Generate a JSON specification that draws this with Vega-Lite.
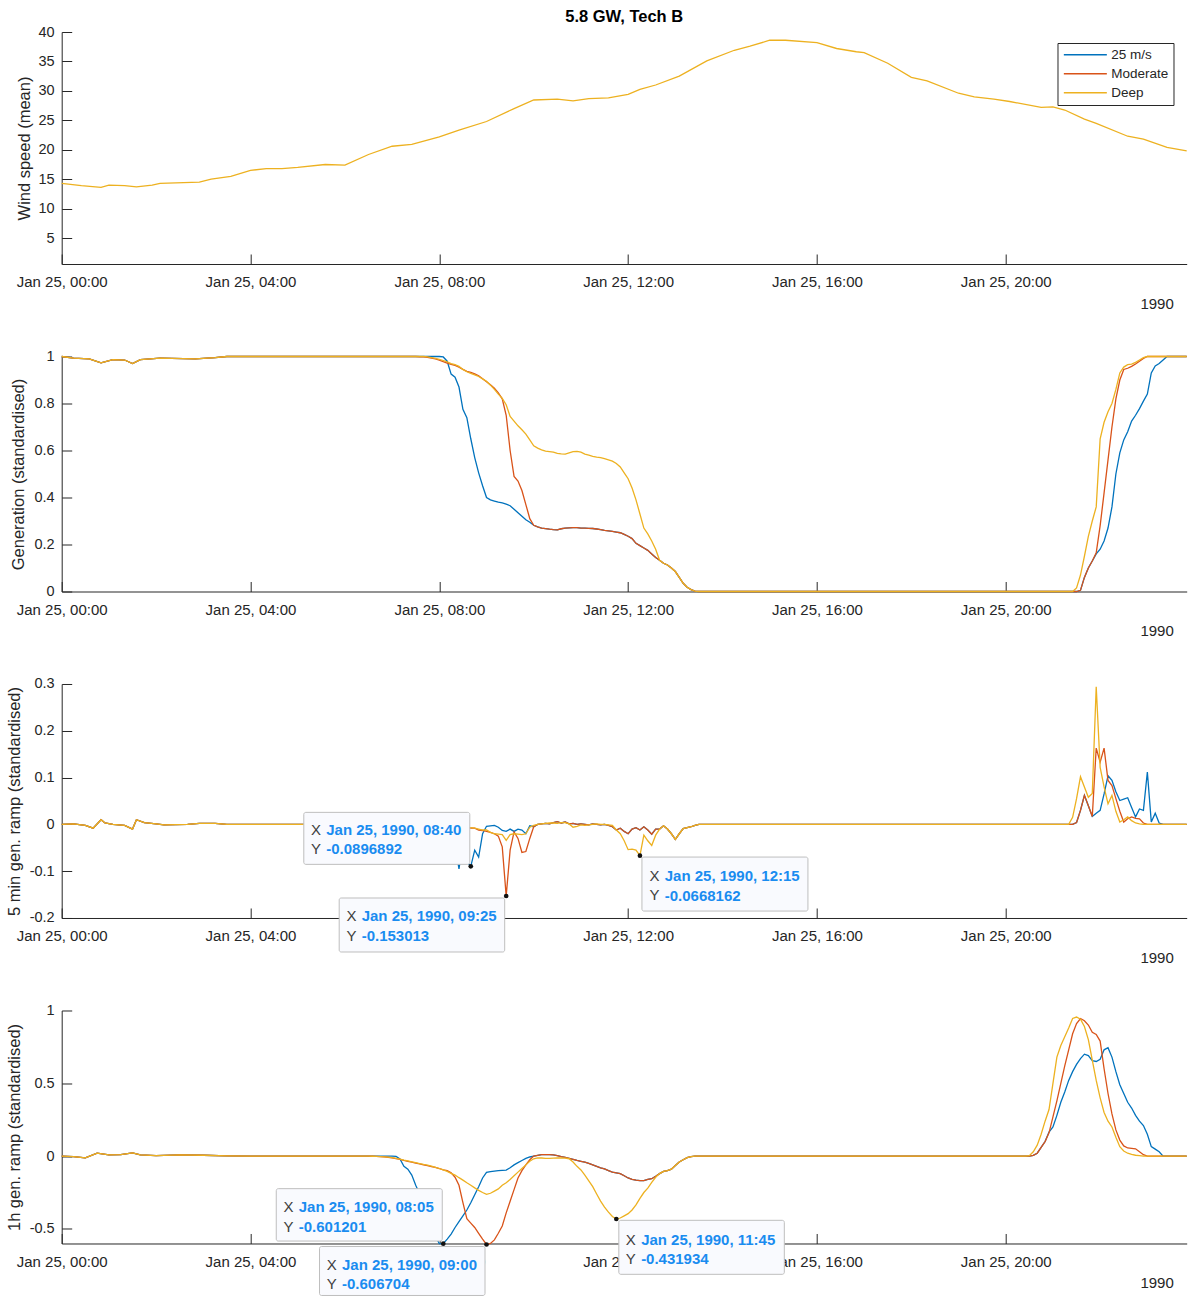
{
  "$schema": "https://vega.github.io/schema/vega-lite/v6.json",
  "padding": {"left": 5.7, "top": 8, "right": 0, "bottom": 0},
  "config": {
    "font": "Liberation Sans",
    "view": {"stroke": null},
    "locale": {"number": {"decimal": ".", "thousands": ",", "grouping": [3], "currency": ["", ""], "minus": "-"}},
    "axis": {"grid": false, "domainColor": "#262626", "tickColor": "#262626", "labelColor": "#262626", "titleColor": "#262626", "tickSize": -10, "domainWidth": 1, "tickWidth": 1, "titleFontWeight": "normal", "labelFont": "Liberation Sans", "titleFont": "Liberation Sans"},
    "axisX": {"labelFontSize": 15, "labelFlush": false, "labelOverlap": false, "labelPadding": 32.7, "labelBaseline": "alphabetic", "titleFontSize": 15, "titleAlign": "right", "titleBaseline": "alphabetic", "titleX": 1111.6, "titleY": 44.3},
    "axisY": {"labelFontSize": 14.5, "labelPadding": 17.6, "titleFontSize": 16.5, "titleAngle": 270, "titleBaseline": "bottom"},
    "line": {"strokeWidth": 1.3, "clip": true}
  },
  "datasets": {
    "wind": [
      {"t":"1990-01-25T00:00","w":14.3},{"t":"1990-01-25T00:25","w":13.9},{"t":"1990-01-25T00:50","w":13.6},{"t":"1990-01-25T01:00","w":14.0},
      {"t":"1990-01-25T01:20","w":13.9},{"t":"1990-01-25T01:35","w":13.7},{"t":"1990-01-25T01:55","w":14.0},{"t":"1990-01-25T02:05","w":14.3},
      {"t":"1990-01-25T02:55","w":14.5},{"t":"1990-01-25T03:10","w":15.0},{"t":"1990-01-25T03:35","w":15.5},{"t":"1990-01-25T04:00","w":16.5},
      {"t":"1990-01-25T04:20","w":16.8},{"t":"1990-01-25T04:40","w":16.8},{"t":"1990-01-25T05:00","w":17.0},{"t":"1990-01-25T05:35","w":17.5},
      {"t":"1990-01-25T06:00","w":17.4},{"t":"1990-01-25T06:30","w":19.2},{"t":"1990-01-25T07:00","w":20.6},{"t":"1990-01-25T07:25","w":20.9},
      {"t":"1990-01-25T08:00","w":22.2},{"t":"1990-01-25T08:25","w":23.35},{"t":"1990-01-25T09:00","w":24.8},{"t":"1990-01-25T09:35","w":27.0},
      {"t":"1990-01-25T10:00","w":28.45},{"t":"1990-01-25T10:30","w":28.6},{"t":"1990-01-25T10:50","w":28.3},{"t":"1990-01-25T11:10","w":28.7},
      {"t":"1990-01-25T11:35","w":28.8},{"t":"1990-01-25T12:00","w":29.4},{"t":"1990-01-25T12:15","w":30.25},{"t":"1990-01-25T12:35","w":31.0},
      {"t":"1990-01-25T13:05","w":32.5},{"t":"1990-01-25T13:40","w":35.1},{"t":"1990-01-25T14:15","w":36.9},{"t":"1990-01-25T14:35","w":37.6},
      {"t":"1990-01-25T15:00","w":38.6},{"t":"1990-01-25T15:20","w":38.6},{"t":"1990-01-25T16:00","w":38.2},{"t":"1990-01-25T16:25","w":37.2},
      {"t":"1990-01-25T16:50","w":36.65},{"t":"1990-01-25T17:00","w":36.5},{"t":"1990-01-25T17:30","w":34.7},{"t":"1990-01-25T18:00","w":32.3},
      {"t":"1990-01-25T18:20","w":31.7},{"t":"1990-01-25T19:00","w":29.6},{"t":"1990-01-25T19:20","w":29.0},{"t":"1990-01-25T19:45","w":28.6},
      {"t":"1990-01-25T20:05","w":28.2},{"t":"1990-01-25T20:45","w":27.2},{"t":"1990-01-25T21:00","w":27.3},{"t":"1990-01-25T21:15","w":26.75},
      {"t":"1990-01-25T21:40","w":25.2},{"t":"1990-01-25T21:55","w":24.5},{"t":"1990-01-25T22:35","w":22.3},{"t":"1990-01-25T22:55","w":21.8},
      {"t":"1990-01-25T23:25","w":20.4},{"t":"1990-01-25T23:50","w":19.8}
    ],
    "gen": [
      {"t":"1990-01-25T00:00","s25":1,"mod":1,"deep":1},
      {"t":"1990-01-25T00:15","s25":0.993,"mod":0.993,"deep":0.993},
      {"t":"1990-01-25T00:35","s25":0.99,"mod":0.99,"deep":0.99},
      {"t":"1990-01-25T00:50","s25":0.973,"mod":0.973,"deep":0.973},
      {"t":"1990-01-25T01:05","s25":0.987,"mod":0.987,"deep":0.987},
      {"t":"1990-01-25T01:20","s25":0.985,"mod":0.985,"deep":0.985},
      {"t":"1990-01-25T01:30","s25":0.97,"mod":0.97,"deep":0.97},
      {"t":"1990-01-25T01:40","s25":0.987,"mod":0.987,"deep":0.987},
      {"t":"1990-01-25T02:05","s25":0.993,"mod":0.993,"deep":0.993},
      {"t":"1990-01-25T02:50","s25":0.99,"mod":0.99,"deep":0.99},
      {"t":"1990-01-25T03:15","s25":0.995,"mod":0.995,"deep":0.995},
      {"t":"1990-01-25T03:30","s25":1,"mod":1,"deep":1},
      {"t":"1990-01-25T07:30","s25":1,"mod":1,"deep":1},
      {"t":"1990-01-25T07:35","s25":1,"mod":0.999,"deep":1},
      {"t":"1990-01-25T07:40","s25":1,"mod":0.998,"deep":1},
      {"t":"1990-01-25T07:45","s25":1,"mod":0.996,"deep":0.998},
      {"t":"1990-01-25T07:50","s25":1,"mod":0.993,"deep":0.995},
      {"t":"1990-01-25T07:55","s25":1,"mod":0.99,"deep":0.992},
      {"t":"1990-01-25T08:00","s25":1,"mod":0.985,"deep":0.988},
      {"t":"1990-01-25T08:05","s25":0.998,"mod":0.978,"deep":0.983},
      {"t":"1990-01-25T08:10","s25":0.98,"mod":0.972,"deep":0.977},
      {"t":"1990-01-25T08:15","s25":0.925,"mod":0.967,"deep":0.97},
      {"t":"1990-01-25T08:20","s25":0.912,"mod":0.962,"deep":0.965},
      {"t":"1990-01-25T08:25","s25":0.87,"mod":0.955,"deep":0.958},
      {"t":"1990-01-25T08:30","s25":0.775,"mod":0.945,"deep":0.945},
      {"t":"1990-01-25T08:35","s25":0.74,"mod":0.937,"deep":0.935},
      {"t":"1990-01-25T08:40","s25":0.65,"mod":0.932,"deep":0.928},
      {"t":"1990-01-25T08:45","s25":0.57,"mod":0.926,"deep":0.922},
      {"t":"1990-01-25T08:50","s25":0.505,"mod":0.918,"deep":0.915},
      {"t":"1990-01-25T08:55","s25":0.45,"mod":0.905,"deep":0.905},
      {"t":"1990-01-25T09:00","s25":0.4,"mod":0.893,"deep":0.895},
      {"t":"1990-01-25T09:05","s25":0.39,"mod":0.88,"deep":0.878},
      {"t":"1990-01-25T09:10","s25":0.385,"mod":0.865,"deep":0.86},
      {"t":"1990-01-25T09:15","s25":0.38,"mod":0.845,"deep":0.84},
      {"t":"1990-01-25T09:20","s25":0.377,"mod":0.82,"deep":0.822},
      {"t":"1990-01-25T09:25","s25":0.372,"mod":0.75,"deep":0.795},
      {"t":"1990-01-25T09:30","s25":0.365,"mod":0.6,"deep":0.745},
      {"t":"1990-01-25T09:35","s25":0.35,"mod":0.49,"deep":0.725},
      {"t":"1990-01-25T09:40","s25":0.335,"mod":0.47,"deep":0.705},
      {"t":"1990-01-25T09:45","s25":0.32,"mod":0.43,"deep":0.688},
      {"t":"1990-01-25T09:50","s25":0.305,"mod":0.37,"deep":0.67},
      {"t":"1990-01-25T09:55","s25":0.295,"mod":0.31,"deep":0.645},
      {"t":"1990-01-25T10:00","s25":0.282,"mod":0.282,"deep":0.62},
      {"t":"1990-01-25T10:05","s25":0.275,"mod":0.275,"deep":0.61},
      {"t":"1990-01-25T10:10","s25":0.27,"mod":0.27,"deep":0.603},
      {"t":"1990-01-25T10:15","s25":0.268,"mod":0.268,"deep":0.597},
      {"t":"1990-01-25T10:20","s25":0.265,"mod":0.265,"deep":0.595},
      {"t":"1990-01-25T10:25","s25":0.263,"mod":0.263,"deep":0.593},
      {"t":"1990-01-25T10:30","s25":0.262,"mod":0.262,"deep":0.588},
      {"t":"1990-01-25T10:35","s25":0.267,"mod":0.267,"deep":0.586},
      {"t":"1990-01-25T10:40","s25":0.27,"mod":0.27,"deep":0.585},
      {"t":"1990-01-25T10:45","s25":0.271,"mod":0.271,"deep":0.59},
      {"t":"1990-01-25T10:50","s25":0.272,"mod":0.272,"deep":0.595},
      {"t":"1990-01-25T10:55","s25":0.272,"mod":0.272,"deep":0.596},
      {"t":"1990-01-25T11:00","s25":0.27,"mod":0.27,"deep":0.593},
      {"t":"1990-01-25T11:05","s25":0.27,"mod":0.27,"deep":0.585},
      {"t":"1990-01-25T11:10","s25":0.269,"mod":0.269,"deep":0.58},
      {"t":"1990-01-25T11:15","s25":0.268,"mod":0.268,"deep":0.575},
      {"t":"1990-01-25T11:20","s25":0.266,"mod":0.266,"deep":0.572},
      {"t":"1990-01-25T11:25","s25":0.263,"mod":0.263,"deep":0.57},
      {"t":"1990-01-25T11:30","s25":0.26,"mod":0.26,"deep":0.565},
      {"t":"1990-01-25T11:35","s25":0.258,"mod":0.258,"deep":0.56},
      {"t":"1990-01-25T11:40","s25":0.256,"mod":0.256,"deep":0.555},
      {"t":"1990-01-25T11:45","s25":0.253,"mod":0.253,"deep":0.545},
      {"t":"1990-01-25T11:50","s25":0.25,"mod":0.25,"deep":0.53},
      {"t":"1990-01-25T11:55","s25":0.243,"mod":0.243,"deep":0.505},
      {"t":"1990-01-25T12:00","s25":0.235,"mod":0.235,"deep":0.48},
      {"t":"1990-01-25T12:05","s25":0.225,"mod":0.225,"deep":0.44},
      {"t":"1990-01-25T12:10","s25":0.205,"mod":0.205,"deep":0.39},
      {"t":"1990-01-25T12:15","s25":0.195,"mod":0.195,"deep":0.33},
      {"t":"1990-01-25T12:20","s25":0.185,"mod":0.185,"deep":0.27},
      {"t":"1990-01-25T12:25","s25":0.175,"mod":0.175,"deep":0.245},
      {"t":"1990-01-25T12:30","s25":0.16,"mod":0.16,"deep":0.215},
      {"t":"1990-01-25T12:35","s25":0.145,"mod":0.145,"deep":0.18},
      {"t":"1990-01-25T12:40","s25":0.133,"mod":0.133,"deep":0.133},
      {"t":"1990-01-25T12:45","s25":0.12,"mod":0.12,"deep":0.12},
      {"t":"1990-01-25T12:50","s25":0.113,"mod":0.113,"deep":0.113},
      {"t":"1990-01-25T12:55","s25":0.1,"mod":0.1,"deep":0.1},
      {"t":"1990-01-25T13:00","s25":0.085,"mod":0.085,"deep":0.085},
      {"t":"1990-01-25T13:05","s25":0.06,"mod":0.06,"deep":0.06},
      {"t":"1990-01-25T13:10","s25":0.035,"mod":0.035,"deep":0.035},
      {"t":"1990-01-25T13:15","s25":0.018,"mod":0.018,"deep":0.018},
      {"t":"1990-01-25T13:20","s25":0.008,"mod":0.008,"deep":0.008},
      {"t":"1990-01-25T13:25","s25":0.002,"mod":0.002,"deep":0.002},
      {"t":"1990-01-25T13:30","s25":0,"mod":0,"deep":0},
      {"t":"1990-01-25T21:25","s25":0,"mod":0,"deep":0},
      {"t":"1990-01-25T21:30","s25":0,"mod":0,"deep":0.015},
      {"t":"1990-01-25T21:35","s25":0.005,"mod":0.005,"deep":0.07},
      {"t":"1990-01-25T21:40","s25":0.06,"mod":0.06,"deep":0.15},
      {"t":"1990-01-25T21:45","s25":0.1,"mod":0.1,"deep":0.235},
      {"t":"1990-01-25T21:50","s25":0.13,"mod":0.13,"deep":0.3},
      {"t":"1990-01-25T21:55","s25":0.16,"mod":0.165,"deep":0.36},
      {"t":"1990-01-25T22:00","s25":0.18,"mod":0.28,"deep":0.65},
      {"t":"1990-01-25T22:05","s25":0.215,"mod":0.42,"deep":0.72},
      {"t":"1990-01-25T22:10","s25":0.27,"mod":0.56,"deep":0.765},
      {"t":"1990-01-25T22:15","s25":0.36,"mod":0.7,"deep":0.8},
      {"t":"1990-01-25T22:20","s25":0.5,"mod":0.82,"deep":0.86},
      {"t":"1990-01-25T22:25","s25":0.59,"mod":0.9,"deep":0.93},
      {"t":"1990-01-25T22:30","s25":0.645,"mod":0.945,"deep":0.955},
      {"t":"1990-01-25T22:35","s25":0.68,"mod":0.95,"deep":0.965},
      {"t":"1990-01-25T22:40","s25":0.725,"mod":0.958,"deep":0.968},
      {"t":"1990-01-25T22:45","s25":0.75,"mod":0.968,"deep":0.975},
      {"t":"1990-01-25T22:50","s25":0.778,"mod":0.98,"deep":0.985},
      {"t":"1990-01-25T22:55","s25":0.81,"mod":0.992,"deep":0.995},
      {"t":"1990-01-25T23:00","s25":0.84,"mod":1,"deep":1},
      {"t":"1990-01-25T23:05","s25":0.93,"mod":1,"deep":1},
      {"t":"1990-01-25T23:10","s25":0.96,"mod":1,"deep":1},
      {"t":"1990-01-25T23:15","s25":0.97,"mod":1,"deep":1},
      {"t":"1990-01-25T23:20","s25":0.985,"mod":1,"deep":1},
      {"t":"1990-01-25T23:25","s25":1,"mod":1,"deep":1},
      {"t":"1990-01-25T23:50","s25":1,"mod":1,"deep":1}
    ],
    "ramp5": [
      {"t":"1990-01-25T00:00","s25":0,"mod":0,"deep":0},
      {"t":"1990-01-25T00:15","s25":0.001,"mod":0.001,"deep":0.001},
      {"t":"1990-01-25T00:30","s25":-0.002,"mod":-0.002,"deep":-0.002},
      {"t":"1990-01-25T00:40","s25":-0.008,"mod":-0.008,"deep":-0.008},
      {"t":"1990-01-25T00:50","s25":0.01,"mod":0.01,"deep":0.01},
      {"t":"1990-01-25T00:55","s25":0.003,"mod":0.003,"deep":0.003},
      {"t":"1990-01-25T01:05","s25":0,"mod":0,"deep":0},
      {"t":"1990-01-25T01:20","s25":-0.002,"mod":-0.002,"deep":-0.002},
      {"t":"1990-01-25T01:30","s25":-0.01,"mod":-0.01,"deep":-0.01},
      {"t":"1990-01-25T01:35","s25":0.01,"mod":0.01,"deep":0.01},
      {"t":"1990-01-25T01:45","s25":0.004,"mod":0.004,"deep":0.004},
      {"t":"1990-01-25T02:00","s25":0.001,"mod":0.001,"deep":0.001},
      {"t":"1990-01-25T02:10","s25":-0.001,"mod":-0.001,"deep":-0.001},
      {"t":"1990-01-25T02:40","s25":0,"mod":0,"deep":0},
      {"t":"1990-01-25T02:55","s25":0.002,"mod":0.002,"deep":0.002},
      {"t":"1990-01-25T03:15","s25":0.002,"mod":0.002,"deep":0.002},
      {"t":"1990-01-25T03:30","s25":0,"mod":0,"deep":0},
      {"t":"1990-01-25T07:30","s25":0,"mod":0,"deep":0},
      {"t":"1990-01-25T07:35","s25":0,"mod":-0.001,"deep":0},
      {"t":"1990-01-25T07:40","s25":0,"mod":-0.002,"deep":-0.001},
      {"t":"1990-01-25T07:45","s25":0,"mod":-0.003,"deep":-0.002},
      {"t":"1990-01-25T07:50","s25":0,"mod":-0.003,"deep":-0.003},
      {"t":"1990-01-25T07:55","s25":0,"mod":-0.005,"deep":-0.004},
      {"t":"1990-01-25T08:00","s25":-0.002,"mod":-0.006,"deep":-0.005},
      {"t":"1990-01-25T08:05","s25":-0.018,"mod":-0.006,"deep":-0.006},
      {"t":"1990-01-25T08:10","s25":-0.055,"mod":-0.005,"deep":-0.007},
      {"t":"1990-01-25T08:15","s25":-0.013,"mod":-0.005,"deep":-0.005},
      {"t":"1990-01-25T08:20","s25":-0.042,"mod":-0.007,"deep":-0.007},
      {"t":"1990-01-25T08:25","s25":-0.095,"mod":-0.01,"deep":-0.013},
      {"t":"1990-01-25T08:30","s25":-0.035,"mod":-0.008,"deep":-0.01},
      {"t":"1990-01-25T08:35","s25":-0.08,"mod":-0.006,"deep":-0.007},
      {"t":"1990-01-25T08:40","s25":-0.0896892,"mod":-0.008,"deep":-0.007},
      {"t":"1990-01-25T08:45","s25":-0.055,"mod":-0.008,"deep":-0.008},
      {"t":"1990-01-25T08:50","s25":-0.07,"mod":-0.012,"deep":-0.01},
      {"t":"1990-01-25T08:55","s25":-0.02,"mod":-0.013,"deep":-0.012},
      {"t":"1990-01-25T09:00","s25":-0.004,"mod":-0.015,"deep":-0.012},
      {"t":"1990-01-25T09:05","s25":-0.003,"mod":-0.017,"deep":-0.017},
      {"t":"1990-01-25T09:10","s25":-0.002,"mod":-0.02,"deep":-0.02},
      {"t":"1990-01-25T09:15","s25":-0.006,"mod":-0.025,"deep":-0.021},
      {"t":"1990-01-25T09:20","s25":-0.013,"mod":-0.048,"deep":-0.022},
      {"t":"1990-01-25T09:25","s25":-0.015,"mod":-0.153013,"deep":-0.034},
      {"t":"1990-01-25T09:30","s25":-0.01,"mod":-0.055,"deep":-0.022},
      {"t":"1990-01-25T09:35","s25":-0.015,"mod":-0.016,"deep":-0.02},
      {"t":"1990-01-25T09:40","s25":-0.01,"mod":-0.03,"deep":-0.021},
      {"t":"1990-01-25T09:45","s25":-0.012,"mod":-0.06,"deep":-0.022},
      {"t":"1990-01-25T09:50","s25":-0.02,"mod":-0.058,"deep":-0.02},
      {"t":"1990-01-25T09:55","s25":-0.003,"mod":-0.03,"deep":-0.006},
      {"t":"1990-01-25T10:00","s25":-0.005,"mod":-0.005,"deep":-0.002},
      {"t":"1990-01-25T10:05","s25":0,"mod":0,"deep":0},
      {"t":"1990-01-25T10:10","s25":0.001,"mod":0.001,"deep":0.001},
      {"t":"1990-01-25T10:15","s25":0.002,"mod":0.002,"deep":0.002},
      {"t":"1990-01-25T10:20","s25":0.001,"mod":0.001,"deep":0.003},
      {"t":"1990-01-25T10:25","s25":0.004,"mod":0.004,"deep":0.003},
      {"t":"1990-01-25T10:30","s25":0.006,"mod":0.006,"deep":0.002},
      {"t":"1990-01-25T10:35","s25":0.003,"mod":0.003,"deep":0.004},
      {"t":"1990-01-25T10:40","s25":0.005,"mod":0.005,"deep":0.004},
      {"t":"1990-01-25T10:45","s25":0.001,"mod":0.001,"deep":0.001},
      {"t":"1990-01-25T10:50","s25":0.002,"mod":0.002,"deep":-0.006},
      {"t":"1990-01-25T10:55","s25":0,"mod":0,"deep":-0.004},
      {"t":"1990-01-25T11:00","s25":0.001,"mod":0.001,"deep":-0.001},
      {"t":"1990-01-25T11:05","s25":0,"mod":0,"deep":-0.002},
      {"t":"1990-01-25T11:10","s25":-0.001,"mod":-0.001,"deep":-0.001},
      {"t":"1990-01-25T11:15","s25":0.001,"mod":0.001,"deep":0},
      {"t":"1990-01-25T11:20","s25":0,"mod":0,"deep":0.001},
      {"t":"1990-01-25T11:25","s25":-0.001,"mod":-0.001,"deep":0},
      {"t":"1990-01-25T11:30","s25":0,"mod":0,"deep":0},
      {"t":"1990-01-25T11:35","s25":-0.002,"mod":-0.002,"deep":-0.001},
      {"t":"1990-01-25T11:40","s25":-0.005,"mod":-0.005,"deep":-0.002},
      {"t":"1990-01-25T11:45","s25":-0.012,"mod":-0.012,"deep":-0.012},
      {"t":"1990-01-25T11:50","s25":-0.008,"mod":-0.008,"deep":-0.02},
      {"t":"1990-01-25T11:55","s25":-0.015,"mod":-0.015,"deep":-0.035},
      {"t":"1990-01-25T12:00","s25":-0.02,"mod":-0.02,"deep":-0.054},
      {"t":"1990-01-25T12:05","s25":-0.01,"mod":-0.01,"deep":-0.053},
      {"t":"1990-01-25T12:10","s25":-0.007,"mod":-0.007,"deep":-0.055},
      {"t":"1990-01-25T12:15","s25":-0.012,"mod":-0.012,"deep":-0.0668162},
      {"t":"1990-01-25T12:20","s25":-0.005,"mod":-0.005,"deep":-0.023},
      {"t":"1990-01-25T12:25","s25":-0.012,"mod":-0.012,"deep":-0.035},
      {"t":"1990-01-25T12:30","s25":-0.021,"mod":-0.021,"deep":-0.045},
      {"t":"1990-01-25T12:35","s25":-0.01,"mod":-0.01,"deep":-0.023},
      {"t":"1990-01-25T12:40","s25":-0.01,"mod":-0.01,"deep":-0.01},
      {"t":"1990-01-25T12:45","s25":-0.003,"mod":-0.003,"deep":-0.003},
      {"t":"1990-01-25T12:50","s25":-0.01,"mod":-0.01,"deep":-0.01},
      {"t":"1990-01-25T12:55","s25":-0.02,"mod":-0.02,"deep":-0.02},
      {"t":"1990-01-25T13:00","s25":-0.032,"mod":-0.032,"deep":-0.032},
      {"t":"1990-01-25T13:05","s25":-0.02,"mod":-0.02,"deep":-0.02},
      {"t":"1990-01-25T13:10","s25":-0.009,"mod":-0.009,"deep":-0.009},
      {"t":"1990-01-25T13:15","s25":-0.007,"mod":-0.007,"deep":-0.007},
      {"t":"1990-01-25T13:20","s25":-0.005,"mod":-0.005,"deep":-0.005},
      {"t":"1990-01-25T13:25","s25":-0.002,"mod":-0.002,"deep":-0.002},
      {"t":"1990-01-25T13:30","s25":0,"mod":0,"deep":0},
      {"t":"1990-01-25T21:20","s25":0,"mod":0,"deep":0},
      {"t":"1990-01-25T21:25","s25":0,"mod":0,"deep":0.015},
      {"t":"1990-01-25T21:30","s25":0.004,"mod":0.004,"deep":0.055},
      {"t":"1990-01-25T21:35","s25":0.03,"mod":0.03,"deep":0.102},
      {"t":"1990-01-25T21:40","s25":0.062,"mod":0.062,"deep":0.08},
      {"t":"1990-01-25T21:45","s25":0.04,"mod":0.04,"deep":0.058},
      {"t":"1990-01-25T21:50","s25":0.017,"mod":0.017,"deep":0.066},
      {"t":"1990-01-25T21:55","s25":0.024,"mod":0.163,"deep":0.294},
      {"t":"1990-01-25T22:00","s25":0.03,"mod":0.133,"deep":0.122},
      {"t":"1990-01-25T22:05","s25":0.065,"mod":0.163,"deep":0.08},
      {"t":"1990-01-25T22:10","s25":0.104,"mod":0.094,"deep":0.044},
      {"t":"1990-01-25T22:15","s25":0.094,"mod":0.083,"deep":0.062},
      {"t":"1990-01-25T22:20","s25":0.07,"mod":0.055,"deep":0.028},
      {"t":"1990-01-25T22:25","s25":0.051,"mod":0.028,"deep":0.005},
      {"t":"1990-01-25T22:30","s25":0.054,"mod":0.005,"deep":0.01},
      {"t":"1990-01-25T22:35","s25":0.057,"mod":0.012,"deep":0.016},
      {"t":"1990-01-25T22:40","s25":0.036,"mod":0.016,"deep":0.008},
      {"t":"1990-01-25T22:45","s25":0.016,"mod":0.013,"deep":0.003},
      {"t":"1990-01-25T22:50","s25":0.033,"mod":0.012,"deep":0.001},
      {"t":"1990-01-25T22:55","s25":0.03,"mod":0.003,"deep":0},
      {"t":"1990-01-25T23:00","s25":0.112,"mod":0,"deep":0},
      {"t":"1990-01-25T23:05","s25":0.005,"mod":0,"deep":0},
      {"t":"1990-01-25T23:10","s25":0.024,"mod":0,"deep":0},
      {"t":"1990-01-25T23:15","s25":0.003,"mod":0,"deep":0},
      {"t":"1990-01-25T23:20","s25":0,"mod":0,"deep":0},
      {"t":"1990-01-25T23:50","s25":0,"mod":0,"deep":0}
    ],
    "ramp60": [
      {"t":"1990-01-25T00:00","s25":0,"mod":0,"deep":0},
      {"t":"1990-01-25T00:15","s25":-0.003,"mod":-0.003,"deep":-0.003},
      {"t":"1990-01-25T00:30","s25":-0.012,"mod":-0.012,"deep":-0.012},
      {"t":"1990-01-25T00:45","s25":0.02,"mod":0.02,"deep":0.02},
      {"t":"1990-01-25T01:00","s25":0.008,"mod":0.008,"deep":0.008},
      {"t":"1990-01-25T01:15","s25":0.01,"mod":0.01,"deep":0.01},
      {"t":"1990-01-25T01:30","s25":0.022,"mod":0.022,"deep":0.022},
      {"t":"1990-01-25T01:40","s25":0.008,"mod":0.008,"deep":0.008},
      {"t":"1990-01-25T02:00","s25":0.004,"mod":0.004,"deep":0.004},
      {"t":"1990-01-25T02:30","s25":0.008,"mod":0.008,"deep":0.008},
      {"t":"1990-01-25T03:00","s25":0.006,"mod":0.006,"deep":0.006},
      {"t":"1990-01-25T03:30","s25":0.002,"mod":0.002,"deep":0.002},
      {"t":"1990-01-25T04:00","s25":0,"mod":0,"deep":0},
      {"t":"1990-01-25T06:30","s25":0,"mod":0,"deep":0},
      {"t":"1990-01-25T06:35","s25":0,"mod":-0.001,"deep":-0.001},
      {"t":"1990-01-25T06:40","s25":0,"mod":-0.002,"deep":-0.002},
      {"t":"1990-01-25T06:45","s25":0,"mod":-0.003,"deep":-0.003},
      {"t":"1990-01-25T06:50","s25":0,"mod":-0.005,"deep":-0.005},
      {"t":"1990-01-25T06:55","s25":0,"mod":-0.008,"deep":-0.007},
      {"t":"1990-01-25T07:00","s25":0,"mod":-0.012,"deep":-0.01},
      {"t":"1990-01-25T07:05","s25":-0.002,"mod":-0.017,"deep":-0.015},
      {"t":"1990-01-25T07:10","s25":-0.02,"mod":-0.023,"deep":-0.02},
      {"t":"1990-01-25T07:15","s25":-0.07,"mod":-0.03,"deep":-0.027},
      {"t":"1990-01-25T07:20","s25":-0.09,"mod":-0.036,"deep":-0.033},
      {"t":"1990-01-25T07:25","s25":-0.13,"mod":-0.042,"deep":-0.039},
      {"t":"1990-01-25T07:30","s25":-0.2,"mod":-0.048,"deep":-0.045},
      {"t":"1990-01-25T07:35","s25":-0.26,"mod":-0.054,"deep":-0.051},
      {"t":"1990-01-25T07:40","s25":-0.35,"mod":-0.06,"deep":-0.057},
      {"t":"1990-01-25T07:45","s25":-0.43,"mod":-0.066,"deep":-0.062},
      {"t":"1990-01-25T07:50","s25":-0.5,"mod":-0.072,"deep":-0.069},
      {"t":"1990-01-25T07:55","s25":-0.55,"mod":-0.078,"deep":-0.077},
      {"t":"1990-01-25T08:00","s25":-0.6,"mod":-0.085,"deep":-0.085},
      {"t":"1990-01-25T08:05","s25":-0.601201,"mod":-0.095,"deep":-0.095},
      {"t":"1990-01-25T08:10","s25":-0.57,"mod":-0.1,"deep":-0.105},
      {"t":"1990-01-25T08:15","s25":-0.535,"mod":-0.115,"deep":-0.118},
      {"t":"1990-01-25T08:20","s25":-0.49,"mod":-0.145,"deep":-0.13},
      {"t":"1990-01-25T08:25","s25":-0.45,"mod":-0.2,"deep":-0.148},
      {"t":"1990-01-25T08:30","s25":-0.41,"mod":-0.32,"deep":-0.165},
      {"t":"1990-01-25T08:35","s25":-0.37,"mod":-0.43,"deep":-0.183},
      {"t":"1990-01-25T08:40","s25":-0.32,"mod":-0.46,"deep":-0.2},
      {"t":"1990-01-25T08:45","s25":-0.265,"mod":-0.49,"deep":-0.218},
      {"t":"1990-01-25T08:50","s25":-0.21,"mod":-0.53,"deep":-0.235},
      {"t":"1990-01-25T08:55","s25":-0.15,"mod":-0.57,"deep":-0.25},
      {"t":"1990-01-25T09:00","s25":-0.112,"mod":-0.606704,"deep":-0.263},
      {"t":"1990-01-25T09:05","s25":-0.106,"mod":-0.6,"deep":-0.255},
      {"t":"1990-01-25T09:10","s25":-0.103,"mod":-0.575,"deep":-0.24},
      {"t":"1990-01-25T09:15","s25":-0.1,"mod":-0.53,"deep":-0.225},
      {"t":"1990-01-25T09:20","s25":-0.098,"mod":-0.48,"deep":-0.2},
      {"t":"1990-01-25T09:25","s25":-0.096,"mod":-0.39,"deep":-0.183},
      {"t":"1990-01-25T09:30","s25":-0.08,"mod":-0.31,"deep":-0.16},
      {"t":"1990-01-25T09:35","s25":-0.06,"mod":-0.23,"deep":-0.135},
      {"t":"1990-01-25T09:40","s25":-0.045,"mod":-0.15,"deep":-0.11},
      {"t":"1990-01-25T09:45","s25":-0.03,"mod":-0.1,"deep":-0.085},
      {"t":"1990-01-25T09:50","s25":-0.016,"mod":-0.06,"deep":-0.06},
      {"t":"1990-01-25T09:55","s25":-0.006,"mod":-0.025,"deep":-0.035},
      {"t":"1990-01-25T10:00","s25":0,"mod":0,"deep":-0.018},
      {"t":"1990-01-25T10:05","s25":0.005,"mod":0.005,"deep":-0.012},
      {"t":"1990-01-25T10:10","s25":0.01,"mod":0.01,"deep":-0.013},
      {"t":"1990-01-25T10:15","s25":0.01,"mod":0.01,"deep":-0.015},
      {"t":"1990-01-25T10:20","s25":0.01,"mod":0.01,"deep":-0.015},
      {"t":"1990-01-25T10:25","s25":0.008,"mod":0.008,"deep":-0.014},
      {"t":"1990-01-25T10:30","s25":0.003,"mod":0.003,"deep":-0.013},
      {"t":"1990-01-25T10:35","s25":-0.003,"mod":-0.003,"deep":-0.012},
      {"t":"1990-01-25T10:40","s25":-0.008,"mod":-0.008,"deep":-0.014},
      {"t":"1990-01-25T10:45","s25":-0.015,"mod":-0.015,"deep":-0.018},
      {"t":"1990-01-25T10:50","s25":-0.022,"mod":-0.022,"deep":-0.04},
      {"t":"1990-01-25T10:55","s25":-0.03,"mod":-0.03,"deep":-0.07},
      {"t":"1990-01-25T11:00","s25":-0.036,"mod":-0.036,"deep":-0.095},
      {"t":"1990-01-25T11:05","s25":-0.042,"mod":-0.042,"deep":-0.13},
      {"t":"1990-01-25T11:10","s25":-0.05,"mod":-0.05,"deep":-0.17},
      {"t":"1990-01-25T11:15","s25":-0.06,"mod":-0.06,"deep":-0.21},
      {"t":"1990-01-25T11:20","s25":-0.07,"mod":-0.07,"deep":-0.26},
      {"t":"1990-01-25T11:25","s25":-0.08,"mod":-0.08,"deep":-0.309},
      {"t":"1990-01-25T11:30","s25":-0.088,"mod":-0.088,"deep":-0.35},
      {"t":"1990-01-25T11:35","s25":-0.1,"mod":-0.1,"deep":-0.385},
      {"t":"1990-01-25T11:40","s25":-0.11,"mod":-0.11,"deep":-0.415},
      {"t":"1990-01-25T11:45","s25":-0.115,"mod":-0.115,"deep":-0.431934},
      {"t":"1990-01-25T11:50","s25":-0.12,"mod":-0.12,"deep":-0.425},
      {"t":"1990-01-25T11:55","s25":-0.135,"mod":-0.135,"deep":-0.41},
      {"t":"1990-01-25T12:00","s25":-0.15,"mod":-0.15,"deep":-0.395},
      {"t":"1990-01-25T12:05","s25":-0.16,"mod":-0.16,"deep":-0.37},
      {"t":"1990-01-25T12:10","s25":-0.165,"mod":-0.165,"deep":-0.335},
      {"t":"1990-01-25T12:15","s25":-0.168,"mod":-0.168,"deep":-0.29},
      {"t":"1990-01-25T12:20","s25":-0.168,"mod":-0.168,"deep":-0.25},
      {"t":"1990-01-25T12:25","s25":-0.16,"mod":-0.16,"deep":-0.22},
      {"t":"1990-01-25T12:30","s25":-0.155,"mod":-0.155,"deep":-0.18},
      {"t":"1990-01-25T12:35","s25":-0.138,"mod":-0.138,"deep":-0.145},
      {"t":"1990-01-25T12:40","s25":-0.12,"mod":-0.12,"deep":-0.12},
      {"t":"1990-01-25T12:45","s25":-0.105,"mod":-0.105,"deep":-0.105},
      {"t":"1990-01-25T12:50","s25":-0.1,"mod":-0.1,"deep":-0.1},
      {"t":"1990-01-25T12:55","s25":-0.09,"mod":-0.09,"deep":-0.09},
      {"t":"1990-01-25T13:00","s25":-0.065,"mod":-0.065,"deep":-0.065},
      {"t":"1990-01-25T13:05","s25":-0.04,"mod":-0.04,"deep":-0.04},
      {"t":"1990-01-25T13:10","s25":-0.025,"mod":-0.025,"deep":-0.025},
      {"t":"1990-01-25T13:15","s25":-0.01,"mod":-0.01,"deep":-0.01},
      {"t":"1990-01-25T13:20","s25":-0.003,"mod":-0.003,"deep":-0.003},
      {"t":"1990-01-25T13:25","s25":0,"mod":0,"deep":0},
      {"t":"1990-01-25T20:25","s25":0,"mod":0,"deep":0},
      {"t":"1990-01-25T20:30","s25":0,"mod":0,"deep":0.003},
      {"t":"1990-01-25T20:35","s25":0.005,"mod":0.005,"deep":0.03},
      {"t":"1990-01-25T20:40","s25":0.02,"mod":0.02,"deep":0.075},
      {"t":"1990-01-25T20:45","s25":0.06,"mod":0.06,"deep":0.15},
      {"t":"1990-01-25T20:50","s25":0.1,"mod":0.1,"deep":0.24},
      {"t":"1990-01-25T20:55","s25":0.165,"mod":0.16,"deep":0.32},
      {"t":"1990-01-25T21:00","s25":0.2,"mod":0.27,"deep":0.5},
      {"t":"1990-01-25T21:05","s25":0.28,"mod":0.38,"deep":0.68},
      {"t":"1990-01-25T21:10","s25":0.37,"mod":0.5,"deep":0.76},
      {"t":"1990-01-25T21:15","s25":0.44,"mod":0.62,"deep":0.82},
      {"t":"1990-01-25T21:20","s25":0.52,"mod":0.73,"deep":0.88},
      {"t":"1990-01-25T21:25","s25":0.58,"mod":0.84,"deep":0.945},
      {"t":"1990-01-25T21:30","s25":0.63,"mod":0.91,"deep":0.955},
      {"t":"1990-01-25T21:35","s25":0.67,"mod":0.945,"deep":0.94},
      {"t":"1990-01-25T21:40","s25":0.7,"mod":0.93,"deep":0.89},
      {"t":"1990-01-25T21:45","s25":0.69,"mod":0.9,"deep":0.8},
      {"t":"1990-01-25T21:50","s25":0.655,"mod":0.85,"deep":0.66},
      {"t":"1990-01-25T21:55","s25":0.65,"mod":0.835,"deep":0.52},
      {"t":"1990-01-25T22:00","s25":0.665,"mod":0.79,"deep":0.4},
      {"t":"1990-01-25T22:05","s25":0.73,"mod":0.6,"deep":0.3},
      {"t":"1990-01-25T22:10","s25":0.745,"mod":0.43,"deep":0.24},
      {"t":"1990-01-25T22:15","s25":0.68,"mod":0.29,"deep":0.2},
      {"t":"1990-01-25T22:20","s25":0.58,"mod":0.18,"deep":0.13},
      {"t":"1990-01-25T22:25","s25":0.49,"mod":0.11,"deep":0.065},
      {"t":"1990-01-25T22:30","s25":0.43,"mod":0.07,"deep":0.035},
      {"t":"1990-01-25T22:35","s25":0.37,"mod":0.056,"deep":0.02},
      {"t":"1990-01-25T22:40","s25":0.33,"mod":0.053,"deep":0.012},
      {"t":"1990-01-25T22:45","s25":0.28,"mod":0.05,"deep":0.006},
      {"t":"1990-01-25T22:50","s25":0.24,"mod":0.03,"deep":0.003},
      {"t":"1990-01-25T22:55","s25":0.21,"mod":0.01,"deep":0},
      {"t":"1990-01-25T23:00","s25":0.15,"mod":0,"deep":0},
      {"t":"1990-01-25T23:05","s25":0.065,"mod":0,"deep":0},
      {"t":"1990-01-25T23:10","s25":0.048,"mod":0,"deep":0},
      {"t":"1990-01-25T23:15","s25":0.03,"mod":0,"deep":0},
      {"t":"1990-01-25T23:20","s25":0,"mod":0,"deep":0},
      {"t":"1990-01-25T23:50","s25":0,"mod":0,"deep":0}
    ],
    "tips5": [
      {"t":"1990-01-25T08:40","v":-0.0896892,"tech":"s25"},
      {"t":"1990-01-25T09:25","v":-0.153013,"tech":"mod"},
      {"t":"1990-01-25T12:15","v":-0.0668162,"tech":"deep"}
    ],
    "tips60": [
      {"t":"1990-01-25T08:05","v":-0.601201,"tech":"s25"},
      {"t":"1990-01-25T09:00","v":-0.606704,"tech":"mod"},
      {"t":"1990-01-25T11:45","v":-0.431934,"tech":"deep"}
    ]
  },
  "spacing": 92.5,
  "bounds": "flush",
  "resolve": {"scale": {"x": "independent", "y": "independent", "color": "independent"}},
  "vconcat": [
    {
      "width": 1125,
      "height": 232,
      "title": {"text": "5.8 GW, Tech B", "frame": "group", "anchor": "middle", "fontSize": 16.5, "fontWeight": "bold", "color": "#000000", "baseline": "alphabetic", "offset": -14},
      "data": {"name": "wind"},
      "mark": {"type": "line"},
      "encoding": {
        "x": {"field": "t", "type": "temporal", "scale": {"domain": [{"year": 1990, "month": 1, "date": 25, "hours": 0}, {"year": 1990, "month": 1, "date": 25, "hours": 23, "minutes": 50}]}, "axis": {"title": "1990", "format": "%b %d, %H:%M", "values": [{"year": 1990, "month": 1, "date": 25, "hours": 0}, {"year": 1990, "month": 1, "date": 25, "hours": 4}, {"year": 1990, "month": 1, "date": 25, "hours": 8}, {"year": 1990, "month": 1, "date": 25, "hours": 12}, {"year": 1990, "month": 1, "date": 25, "hours": 16}, {"year": 1990, "month": 1, "date": 25, "hours": 20}]}},
        "y": {"field": "w", "type": "quantitative", "scale": {"domain": [0.6, 40], "nice": false}, "axis": {"title": "Wind speed (mean)", "values": [5, 10, 15, 20, 25, 30, 35, 40], "format": "d", "titleX": -28.7}},
        "color": {"datum": "Deep", "type": "nominal", "scale": {"domain": ["25 m/s", "Moderate", "Deep"], "range": ["#0072BD", "#D95319", "#EDB120"]}, "legend": {"orient": "none", "legendX": 995.8, "legendY": 11, "title": null, "strokeColor": "#262626", "fillColor": "#ffffff", "padding": 5, "rowPadding": 4, "symbolType": "M-4,0H4", "symbolSize": 115.6, "symbolOffset": 16.1, "symbolStrokeWidth": 1.3, "labelOffset": 19.2, "labelFontSize": 13.5, "labelColor": "#262626", "labelFont": "Liberation Sans"}}
      }
    },
    {
      "width": 1125,
      "height": 235,
      "data": {"name": "gen"},
      "transform": [{"fold": ["s25", "mod", "deep"], "as": ["tech", "v"]}],
      "mark": {"type": "line"},
      "encoding": {
        "x": {"field": "t", "type": "temporal", "scale": {"domain": [{"year": 1990, "month": 1, "date": 25, "hours": 0}, {"year": 1990, "month": 1, "date": 25, "hours": 23, "minutes": 50}]}, "axis": {"title": "1990", "format": "%b %d, %H:%M", "values": [{"year": 1990, "month": 1, "date": 25, "hours": 0}, {"year": 1990, "month": 1, "date": 25, "hours": 4}, {"year": 1990, "month": 1, "date": 25, "hours": 8}, {"year": 1990, "month": 1, "date": 25, "hours": 12}, {"year": 1990, "month": 1, "date": 25, "hours": 16}, {"year": 1990, "month": 1, "date": 25, "hours": 20}]}},
        "y": {"field": "v", "type": "quantitative", "scale": {"domain": [0, 1], "nice": false}, "axis": {"title": "Generation (standardised)", "values": [0, 0.2, 0.4, 0.6, 0.8, 1], "format": ".1~f", "titleX": -35.2}},
        "color": {"field": "tech", "type": "nominal", "scale": {"domain": ["s25", "mod", "deep"], "range": ["#0072BD", "#D95319", "#EDB120"]}, "legend": null}
      }
    },
    {
      "width": 1125,
      "height": 234,
      "encoding": {
        "x": {"field": "t", "type": "temporal", "scale": {"domain": [{"year": 1990, "month": 1, "date": 25, "hours": 0}, {"year": 1990, "month": 1, "date": 25, "hours": 23, "minutes": 50}]}, "axis": {"title": "1990", "format": "%b %d, %H:%M", "values": [{"year": 1990, "month": 1, "date": 25, "hours": 0}, {"year": 1990, "month": 1, "date": 25, "hours": 4}, {"year": 1990, "month": 1, "date": 25, "hours": 8}, {"year": 1990, "month": 1, "date": 25, "hours": 12}, {"year": 1990, "month": 1, "date": 25, "hours": 16}, {"year": 1990, "month": 1, "date": 25, "hours": 20}]}},
        "y": {"field": "v", "type": "quantitative", "scale": {"domain": [-0.2, 0.3], "nice": false}, "axis": {"title": "5 min gen. ramp (standardised)", "values": [-0.2, -0.1, 0, 0.1, 0.2, 0.3], "format": ".1~f", "titleX": -39}}
      },
      "layer": [
        {
          "data": {"name": "ramp5"},
          "transform": [{"fold": ["s25", "mod", "deep"], "as": ["tech", "v"]}],
          "mark": {"type": "line"},
          "encoding": {"color": {"field": "tech", "type": "nominal", "scale": {"domain": ["s25", "mod", "deep"], "range": ["#0072BD", "#D95319", "#EDB120"]}, "legend": null}}
        },
        {
          "data": {"name": "tips5"},
          "transform": [{"filter": {"field": "tech", "equal": "s25"}}],
          "layer": [
            {"mark": {"type": "rect", "xOffset": -167, "x2Offset": -1, "yOffset": -54, "y2Offset": -2, "fill": "#F9FAFE", "stroke": "#BEBEBE", "strokeWidth": 1, "cornerRadius": 2}, "encoding": {"x2": {"field": "t"}, "y2": {"field": "v"}}},
            {"mark": {"type": "text", "text": ["X", "Y"], "lineHeight": 19.2, "align": "left", "baseline": "alphabetic", "dx": -159.7, "dy": -31.3, "fontSize": 15, "color": "#404040"}},
            {"mark": {"type": "text", "align": "left", "baseline": "alphabetic", "dx": -144.5, "dy": -31.3, "fontSize": 15, "fontWeight": "bold", "color": "#1A8CF0"}, "encoding": {"text": {"field": "t", "type": "temporal", "format": "%b %d, %Y, %H:%M"}}},
            {"mark": {"type": "text", "align": "left", "baseline": "alphabetic", "dx": -144.5, "dy": -12.1, "fontSize": 15, "fontWeight": "bold", "color": "#1A8CF0"}, "encoding": {"text": {"field": "v", "type": "quantitative", "format": ".6~g"}}}
          ]
        },
        {
          "data": {"name": "tips5"},
          "transform": [{"filter": {"field": "tech", "equal": "mod"}}],
          "layer": [
            {"mark": {"type": "rect", "xOffset": -167, "x2Offset": -1.5, "yOffset": 2, "y2Offset": 56, "fill": "#F9FAFE", "stroke": "#BEBEBE", "strokeWidth": 1, "cornerRadius": 2}, "encoding": {"x2": {"field": "t"}, "y2": {"field": "v"}}},
            {"mark": {"type": "text", "text": ["X", "Y"], "lineHeight": 19.2, "align": "left", "baseline": "alphabetic", "dx": -159.7, "dy": 25.4, "fontSize": 15, "color": "#404040"}},
            {"mark": {"type": "text", "align": "left", "baseline": "alphabetic", "dx": -144.5, "dy": 25.4, "fontSize": 15, "fontWeight": "bold", "color": "#1A8CF0"}, "encoding": {"text": {"field": "t", "type": "temporal", "format": "%b %d, %Y, %H:%M"}}},
            {"mark": {"type": "text", "align": "left", "baseline": "alphabetic", "dx": -144.5, "dy": 44.7, "fontSize": 15, "fontWeight": "bold", "color": "#1A8CF0"}, "encoding": {"text": {"field": "v", "type": "quantitative", "format": ".6~g"}}}
          ]
        },
        {
          "data": {"name": "tips5"},
          "transform": [{"filter": {"field": "tech", "equal": "deep"}}],
          "layer": [
            {"mark": {"type": "rect", "xOffset": 2, "x2Offset": 168, "yOffset": 1.4, "y2Offset": 55.4, "fill": "#F9FAFE", "stroke": "#BEBEBE", "strokeWidth": 1, "cornerRadius": 2}, "encoding": {"x2": {"field": "t"}, "y2": {"field": "v"}}},
            {"mark": {"type": "text", "text": ["X", "Y"], "lineHeight": 19.2, "align": "left", "baseline": "alphabetic", "dx": 9.5, "dy": 25.6, "fontSize": 15, "color": "#404040"}},
            {"mark": {"type": "text", "align": "left", "baseline": "alphabetic", "dx": 24.8, "dy": 25.6, "fontSize": 15, "fontWeight": "bold", "color": "#1A8CF0"}, "encoding": {"text": {"field": "t", "type": "temporal", "format": "%b %d, %Y, %H:%M"}}},
            {"mark": {"type": "text", "align": "left", "baseline": "alphabetic", "dx": 24.8, "dy": 44.9, "fontSize": 15, "fontWeight": "bold", "color": "#1A8CF0"}, "encoding": {"text": {"field": "v", "type": "quantitative", "format": ".6~g"}}}
          ]
        },
        {"data": {"name": "tips5"}, "mark": {"type": "point", "filled": true, "size": 22, "color": "#111111", "opacity": 1}}
      ]
    },
    {
      "width": 1125,
      "height": 233,
      "encoding": {
        "x": {"field": "t", "type": "temporal", "scale": {"domain": [{"year": 1990, "month": 1, "date": 25, "hours": 0}, {"year": 1990, "month": 1, "date": 25, "hours": 23, "minutes": 50}]}, "axis": {"title": "1990", "format": "%b %d, %H:%M", "values": [{"year": 1990, "month": 1, "date": 25, "hours": 0}, {"year": 1990, "month": 1, "date": 25, "hours": 4}, {"year": 1990, "month": 1, "date": 25, "hours": 8}, {"year": 1990, "month": 1, "date": 25, "hours": 12}, {"year": 1990, "month": 1, "date": 25, "hours": 16}, {"year": 1990, "month": 1, "date": 25, "hours": 20}]}},
        "y": {"field": "v", "type": "quantitative", "scale": {"domain": [-0.6, 1], "nice": false}, "axis": {"title": "1h gen. ramp (standardised)", "values": [-0.5, 0, 0.5, 1], "format": ".1~f", "titleX": -39}}
      },
      "layer": [
        {
          "data": {"name": "ramp60"},
          "transform": [{"fold": ["s25", "mod", "deep"], "as": ["tech", "v"]}],
          "mark": {"type": "line"},
          "encoding": {"color": {"field": "tech", "type": "nominal", "scale": {"domain": ["s25", "mod", "deep"], "range": ["#0072BD", "#D95319", "#EDB120"]}, "legend": null}}
        },
        {
          "data": {"name": "tips60"},
          "transform": [{"filter": {"field": "tech", "equal": "s25"}}],
          "layer": [
            {"mark": {"type": "rect", "xOffset": -167, "x2Offset": -1, "yOffset": -55, "y2Offset": -2.6, "fill": "#F9FAFE", "stroke": "#BEBEBE", "strokeWidth": 1, "cornerRadius": 2}, "encoding": {"x2": {"field": "t"}, "y2": {"field": "v"}}},
            {"mark": {"type": "text", "text": ["X", "Y"], "lineHeight": 19.2, "align": "left", "baseline": "alphabetic", "dx": -159.7, "dy": -31.3, "fontSize": 15, "color": "#404040"}},
            {"mark": {"type": "text", "align": "left", "baseline": "alphabetic", "dx": -144.5, "dy": -31.3, "fontSize": 15, "fontWeight": "bold", "color": "#1A8CF0"}, "encoding": {"text": {"field": "t", "type": "temporal", "format": "%b %d, %Y, %H:%M"}}},
            {"mark": {"type": "text", "align": "left", "baseline": "alphabetic", "dx": -144.5, "dy": -12.1, "fontSize": 15, "fontWeight": "bold", "color": "#1A8CF0"}, "encoding": {"text": {"field": "v", "type": "quantitative", "format": ".6~g"}}}
          ]
        },
        {
          "data": {"name": "tips60"},
          "transform": [{"filter": {"field": "tech", "equal": "mod"}}],
          "layer": [
            {"mark": {"type": "rect", "xOffset": -167, "x2Offset": -1.5, "yOffset": 2, "y2Offset": 51, "fill": "#F9FAFE", "stroke": "#BEBEBE", "strokeWidth": 1, "cornerRadius": 2}, "encoding": {"x2": {"field": "t"}, "y2": {"field": "v"}}},
            {"mark": {"type": "text", "text": ["X", "Y"], "lineHeight": 19.2, "align": "left", "baseline": "alphabetic", "dx": -159.7, "dy": 25.4, "fontSize": 15, "color": "#404040"}},
            {"mark": {"type": "text", "align": "left", "baseline": "alphabetic", "dx": -144.5, "dy": 25.4, "fontSize": 15, "fontWeight": "bold", "color": "#1A8CF0"}, "encoding": {"text": {"field": "t", "type": "temporal", "format": "%b %d, %Y, %H:%M"}}},
            {"mark": {"type": "text", "align": "left", "baseline": "alphabetic", "dx": -144.5, "dy": 44.7, "fontSize": 15, "fontWeight": "bold", "color": "#1A8CF0"}, "encoding": {"text": {"field": "v", "type": "quantitative", "format": ".6~g"}}}
          ]
        },
        {
          "data": {"name": "tips60"},
          "transform": [{"filter": {"field": "tech", "equal": "deep"}}],
          "layer": [
            {"mark": {"type": "rect", "xOffset": 2.5, "x2Offset": 168, "yOffset": 1.3, "y2Offset": 55.3, "fill": "#F9FAFE", "stroke": "#BEBEBE", "strokeWidth": 1, "cornerRadius": 2}, "encoding": {"x2": {"field": "t"}, "y2": {"field": "v"}}},
            {"mark": {"type": "text", "text": ["X", "Y"], "lineHeight": 19.2, "align": "left", "baseline": "alphabetic", "dx": 9.5, "dy": 25.6, "fontSize": 15, "color": "#404040"}},
            {"mark": {"type": "text", "align": "left", "baseline": "alphabetic", "dx": 24.8, "dy": 25.6, "fontSize": 15, "fontWeight": "bold", "color": "#1A8CF0"}, "encoding": {"text": {"field": "t", "type": "temporal", "format": "%b %d, %Y, %H:%M"}}},
            {"mark": {"type": "text", "align": "left", "baseline": "alphabetic", "dx": 24.8, "dy": 44.9, "fontSize": 15, "fontWeight": "bold", "color": "#1A8CF0"}, "encoding": {"text": {"field": "v", "type": "quantitative", "format": ".6~g"}}}
          ]
        },
        {"data": {"name": "tips60"}, "mark": {"type": "point", "filled": true, "size": 22, "color": "#111111", "opacity": 1}}
      ]
    }
  ]
}
